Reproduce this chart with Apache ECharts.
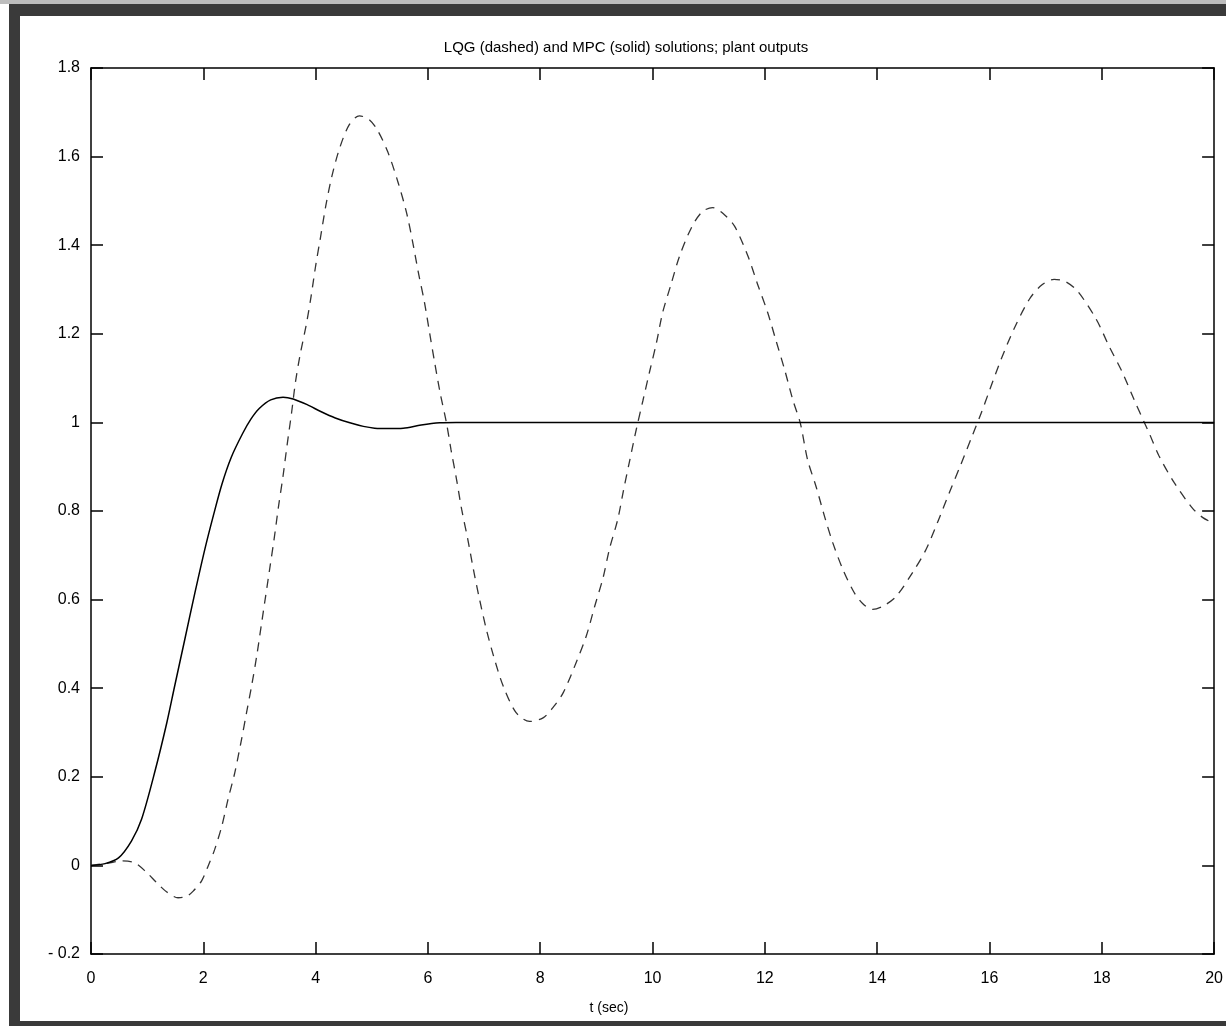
<!DOCTYPE html>
<html>
<head>
<meta charset="utf-8">
<script src="https://cdn.jsdelivr.net/npm/echarts@6/dist/echarts.min.js"></script>
<style>
html,body{margin:0;padding:0;background:#fff;}
#chart{width:1226px;height:1026px;}
</style>
</head>
<body>
<div id="chart"></div>
<script>
// Data
var titleText = 'LQG (dashed) and MPC (solid) solutions; plant outputs';
var xLabelText = 't (sec)';
var xTicks = [0, 2, 4, 6, 8, 10, 12, 14, 16, 18, 20];
var yTicks = [-0.2, 0, 0.2, 0.4, 0.6, 0.8, 1, 1.2, 1.4, 1.6, 1.8];

var tLQG = [0, 0.3, 0.55, 0.78, 1.0, 1.17, 1.35, 1.55, 1.7, 1.82, 1.97, 2.09, 2.2, 2.33, 2.44, 2.56, 2.68, 2.77, 2.86, 2.95,
  3.03, 3.11, 3.19, 3.26, 3.34, 3.42, 3.49, 3.57, 3.64, 3.72, 3.84, 3.92, 4.0, 4.09, 4.18, 4.29, 4.43, 4.6, 4.78, 4.95,
  5.1, 5.29, 5.47, 5.62, 5.73, 5.83, 5.94, 6.03, 6.12, 6.22, 6.33, 6.41, 6.51, 6.6, 6.71, 6.81, 6.92, 7.04, 7.17, 7.34,
  7.57, 7.81, 8.05, 8.25, 8.41, 8.64, 8.82, 8.97, 9.12, 9.23, 9.38, 9.48, 9.59, 9.71, 9.83, 9.95, 10.07, 10.18, 10.33, 10.48,
  10.69, 10.88, 11.07, 11.27, 11.46, 11.7, 11.87, 12.05, 12.2, 12.35, 12.5, 12.63, 12.76, 12.91, 13.06, 13.21, 13.39, 13.59, 13.75, 13.92,
  14.1, 14.33, 14.63, 14.87, 15.08, 15.29, 15.49, 15.7, 15.85, 16.0, 16.2, 16.44, 16.71, 16.93, 17.15, 17.35, 17.57, 17.9, 18.13, 18.37,
  18.58, 18.76, 18.84, 19.02, 19.29, 19.61, 19.8, 20.0];
var yLQG = [0, 0.005, 0.01, 0.006, -0.017, -0.039, -0.06, -0.073, -0.07, -0.058, -0.035, 0.0, 0.035, 0.089, 0.149, 0.209, 0.284, 0.345, 0.405, 0.472,
  0.54, 0.608, 0.676, 0.736, 0.811, 0.879, 0.947, 1.02, 1.09, 1.15, 1.225, 1.285, 1.353, 1.42, 1.488, 1.556, 1.62, 1.672, 1.692, 1.684,
  1.66, 1.609, 1.541, 1.473, 1.406, 1.338, 1.27, 1.202, 1.135, 1.065, 0.999, 0.939, 0.871, 0.804, 0.736, 0.668, 0.6, 0.533, 0.472, 0.405,
  0.345, 0.325, 0.333, 0.36, 0.39, 0.458, 0.518, 0.585, 0.65, 0.713, 0.781, 0.845, 0.912, 0.984, 1.05, 1.116, 1.18, 1.248, 1.312, 1.375,
  1.439, 1.475, 1.485, 1.47, 1.443, 1.375, 1.312, 1.248, 1.184, 1.12, 1.05, 0.999, 0.916, 0.856, 0.789, 0.728, 0.668, 0.616, 0.59, 0.578,
  0.585, 0.606, 0.661, 0.713, 0.776, 0.843, 0.905, 0.972, 1.02, 1.072, 1.14, 1.212, 1.278, 1.31, 1.323, 1.318, 1.296, 1.233, 1.172, 1.112,
  1.05, 0.999, 0.977, 0.924, 0.864, 0.807, 0.785, 0.772];

var tMPC = [0, 0.25, 0.49, 0.72, 0.9, 1.14, 1.35, 1.49, 1.67, 1.85, 2.03, 2.18, 2.33, 2.5, 2.7, 2.85, 3.0, 3.2, 3.42, 3.6, 3.85,
  4.1, 4.35, 4.61, 4.85, 5.05, 5.3, 5.56, 5.88, 6.21, 6.5, 7, 20];
var yMPC = [0, 0.004, 0.017, 0.055, 0.104, 0.213, 0.322, 0.405, 0.51, 0.615, 0.715, 0.79, 0.86, 0.922, 0.975, 1.008, 1.032, 1.051, 1.057, 1.053, 1.04,
  1.024, 1.01, 0.999, 0.991, 0.987, 0.986, 0.987, 0.994, 0.999, 1.0, 1.0, 1.0];

function pairs(t, y) { return t.map(function (v, i) { return [v, y[i]]; }); }

var FONT = 'Liberation Sans, Arial, sans-serif';
function yFmt(v) {
  var r = Math.round(v * 10) / 10;
  if (r < 0) return '- ' + Math.abs(r);
  return String(r);
}
var axisLine = { show: true, onZero: false, lineStyle: { color: '#000', width: 1.5 } };
var tick = { show: true, inside: true, length: 12, lineStyle: { color: '#000', width: 1.5 } };

var chart = echarts.init(document.getElementById('chart'), null, { renderer: 'canvas' });
chart.setOption({
  animation: false,
  backgroundColor: '#ffffff',
  graphic: [
    { type: 'rect', z: -10, shape: { x: 0, y: 0, width: 1226, height: 4 }, style: { fill: '#bdbdbd' } },
    { type: 'rect', z: -10, shape: { x: 9, y: 4, width: 1217, height: 1022 }, style: { fill: '#3a3a3a' } },
    { type: 'rect', z: -9, shape: { x: 20, y: 16, width: 1206, height: 1005 }, style: { fill: '#ffffff' } },
    { type: 'text', z: 5, x: 626, y: 48, style: { text: titleText, fill: '#000', font: '15px ' + FONT, textAlign: 'center', textVerticalAlign: 'middle' } },
    { type: 'text', z: 5, x: 609, y: 1008, style: { text: xLabelText, fill: '#000', font: '14px ' + FONT, textAlign: 'center', textVerticalAlign: 'middle' } }
  ],
  grid: { left: 91, top: 68, right: 11, bottom: 72, containLabel: false },
  xAxis: [
    { type: 'value', min: 0, max: 20, interval: 2, position: 'bottom',
      axisLine: axisLine, axisTick: tick, splitLine: { show: false },
      axisLabel: { color: '#000', fontSize: 16, fontFamily: FONT, margin: 17 } },
    { type: 'value', min: 0, max: 20, interval: 2, position: 'top',
      axisLine: axisLine, axisTick: tick, splitLine: { show: false }, axisLabel: { show: false } }
  ],
  yAxis: [
    { type: 'value', min: -0.2, max: 1.8, interval: 0.2, position: 'left',
      axisLine: axisLine, axisTick: tick, splitLine: { show: false },
      axisLabel: { color: '#000', fontSize: 16, fontFamily: FONT, margin: 11, formatter: yFmt } },
    { type: 'value', min: -0.2, max: 1.8, interval: 0.2, position: 'right',
      axisLine: axisLine, axisTick: tick, splitLine: { show: false }, axisLabel: { show: false } }
  ],
  series: [
    { name: 'LQG', type: 'line', data: pairs(tLQG, yLQG), showSymbol: false, smooth: 0.3,
      lineStyle: { color: '#333', width: 1.3, type: [9, 7] }, z: 3 },
    { name: 'MPC', type: 'line', data: pairs(tMPC, yMPC), showSymbol: false, smooth: 0.3,
      lineStyle: { color: '#000', width: 1.5, type: 'solid' }, z: 4 }
  ]
});
</script>
</body>
</html>
